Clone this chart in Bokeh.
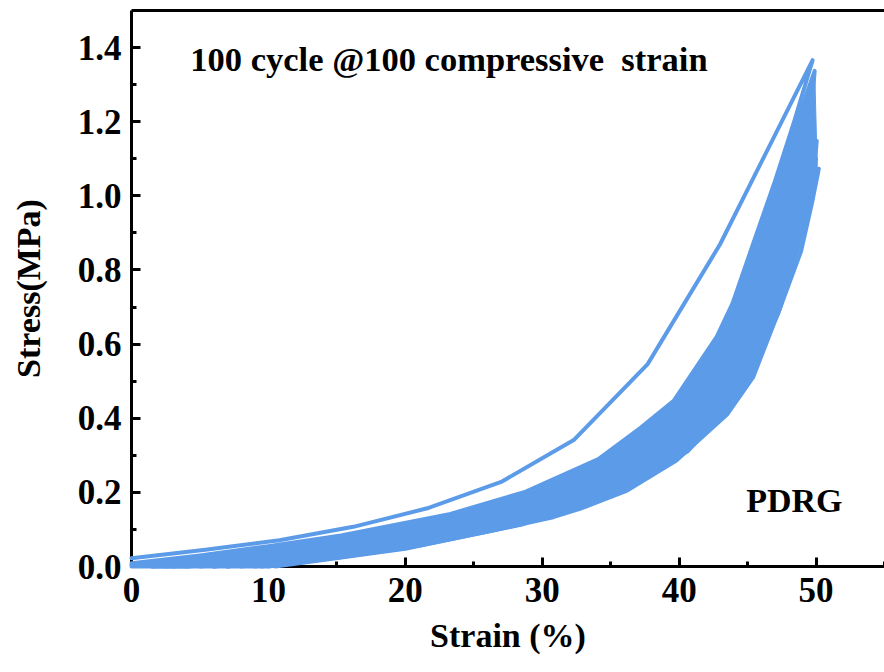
from bokeh.plotting import figure
from bokeh.models import (Range1d, SingleIntervalTicker, PrintfTickFormatter,
                          LinearAxis, FixedTicker)
from bokeh.core.properties import value
from bokeh.embed import file_html
from bokeh.resources import INLINE

# ---------------- data (strain %, stress MPa) ----------------
# cycle 1
c1_load_x = [0.0, 5.4, 10.8, 16.2, 21.6, 27.0, 32.3, 37.7, 43.0, 49.75]
c1_load_y = [0.022, 0.045, 0.071, 0.107, 0.157, 0.228, 0.341, 0.546, 0.870, 1.366]
c1_unload_x = [49.75, 48.4, 47.0, 45.4, 43.9, 42.75, 39.6, 37.2, 34.1, 28.8, 23.3, 15.3, 10.0, 5.0, 0.0]
c1_unload_y = [1.366, 1.20, 1.04, 0.87, 0.71, 0.62, 0.447, 0.375, 0.29, 0.202, 0.142, 0.084, 0.055, 0.030, 0.009]

# cycle 2
c2_load_x = [0.0, 5.0, 10.0, 15.3, 23.3, 28.8, 34.1, 37.2, 39.6, 42.75, 43.9, 45.4, 47.0, 48.4, 49.9]
c2_load_y = [0.004, 0.025, 0.049, 0.079, 0.137, 0.196, 0.283, 0.366, 0.438, 0.605, 0.695, 0.855, 1.03, 1.18, 1.337]
c2_unload_x = [49.9, 49.5, 48.8, 47.5, 45.8, 43.8, 41.0, 37.5, 33.0, 27.0, 21.0, 15.0, 9.0, 4.0, 1.5]
c2_unload_y = [1.337, 1.16, 0.99, 0.81, 0.64, 0.50, 0.37, 0.265, 0.18, 0.115, 0.068, 0.035, 0.012, 0.0, 0.0]

# intermediate cycles (loading then unloading)
c3_x = [1.5, 10, 20, 28, 34, 39, 43, 46, 48.4, 49.7, 49.3, 48.3, 46.5, 43.5, 39, 33, 25, 16, 6]
c3_y = [0.0, 0.04, 0.10, 0.175, 0.26, 0.38, 0.55, 0.76, 1.01, 1.243, 1.08, 0.90, 0.70, 0.49, 0.33, 0.21, 0.115, 0.045, 0.0]
c5_x = [2.5, 11, 21, 29, 35, 40, 44, 46.8, 48.6, 49.6, 49.2, 48.0, 46.0, 43.0, 38.5, 32, 24, 15, 7]
c5_y = [0.0, 0.038, 0.095, 0.17, 0.255, 0.38, 0.56, 0.79, 1.0, 1.198, 1.04, 0.86, 0.66, 0.47, 0.31, 0.19, 0.10, 0.038, 0.0]
c10_x = [3, 12, 22, 30, 36, 40.5, 44.5, 47, 48.8, 49.75, 49.4, 48.4, 46.6, 43.8, 39.5, 33, 25, 16, 8]
c10_y = [0.0, 0.036, 0.092, 0.168, 0.255, 0.37, 0.55, 0.76, 0.96, 1.17, 1.03, 0.87, 0.69, 0.49, 0.33, 0.2, 0.105, 0.04, 0.0]
c20_x = [4, 13, 23, 31, 37, 41.5, 45, 47.5, 49.2, 50.05, 49.7, 48.7, 46.9, 44.2, 40, 34, 26, 17, 9]
c20_y = [0.0, 0.034, 0.09, 0.165, 0.255, 0.40, 0.57, 0.78, 0.96, 1.148, 1.0, 0.86, 0.68, 0.49, 0.32, 0.2, 0.105, 0.04, 0.0]
c40_x = [5, 14, 24, 32, 37.5, 42, 45.5, 47.8, 49.1, 49.85, 49.5, 48.5, 46.8, 44, 40, 34.5, 27, 18, 9.5]
c40_y = [0.0, 0.032, 0.088, 0.163, 0.26, 0.42, 0.59, 0.79, 0.96, 1.12, 0.99, 0.85, 0.67, 0.47, 0.31, 0.2, 0.11, 0.042, 0.0]
c60_x = [6, 15, 25, 32.5, 38, 42.5, 46, 48.2, 49.4, 50.0, 49.6, 48.6, 46.9, 44.3, 40.3, 35, 28, 19, 10]
c60_y = [0.0, 0.03, 0.095, 0.17, 0.27, 0.44, 0.63, 0.84, 0.99, 1.10, 1.0, 0.86, 0.68, 0.47, 0.31, 0.205, 0.115, 0.045, 0.0]
c80_x = [7, 16, 26, 33, 38.5, 43, 46.5, 48.6, 49.6, 50.2, 49.7, 48.9, 47.2, 44.6, 40.6, 35.5, 28.5, 20, 10.5]
c80_y = [0.0, 0.04, 0.105, 0.175, 0.28, 0.47, 0.67, 0.89, 1.0, 1.073, 0.98, 0.85, 0.68, 0.47, 0.31, 0.205, 0.113, 0.048, 0.0]

# cycle 100 (last)
c100_load_x = [8, 17, 27, 34, 39, 43.5, 46.5, 48.6, 49.6, 50.1]
c100_load_y = [0.0, 0.04, 0.105, 0.19, 0.30, 0.47, 0.67, 0.88, 0.99, 1.06]
c100_unload_x = [50.1, 49.1, 47.4, 45.4, 43.5, 39.8, 36.2, 32.8, 30.8, 26.4, 21.1, 15.3, 9.9, 0.0]
c100_unload_y = [1.06, 0.915, 0.70, 0.51, 0.41, 0.286, 0.205, 0.156, 0.133, 0.097, 0.057, 0.025, 0.0, 0.0]

x_ticks_fmt = "%d"
y_ticks_fmt = "%.1f"
title_text = "100 cycle @100 compressive \u00a0strain"
sample_text = "PDRG"

# ---------------- figure ----------------
BLUE = "#5C9BE8"
FONT = "Liberation Serif"

p = figure(width=884, height=672, x_range=Range1d(0, 55), y_range=Range1d(0, 1.5),
           output_backend="svg", toolbar_location=None,
           min_border_left=131, min_border_right=0, min_border_top=10, min_border_bottom=106)
p.xgrid.visible = False
p.ygrid.visible = False
p.outline_line_color = None
p.background_fill_color = "white"
p.border_fill_color = "white"

# dense band of the later cycles
band_x = c2_load_x + c100_unload_x
band_y = c2_load_y + c100_unload_y
p.patch(band_x, band_y, fill_color=BLUE, line_color=BLUE, line_width=1, level="overlay")

xs = [c1_load_x + c1_unload_x[1:], c2_load_x + c2_unload_x[1:], c3_x, c5_x, c10_x, c20_x,
      c40_x, c60_x, c80_x, c100_load_x + c100_unload_x[1:]]
ys = [c1_load_y + c1_unload_y[1:], c2_load_y + c2_unload_y[1:], c3_y, c5_y, c10_y, c20_y,
      c40_y, c60_y, c80_y, c100_load_y + c100_unload_y[1:]]
p.multi_line(xs, ys, line_color=BLUE, line_width=4, line_join="round", line_cap="round",
             level="overlay")

# texts
p.text(x=[4.3], y=[1.37], text=[title_text], text_font=value(FONT), text_font_style="bold",
       text_font_size="34.5px", text_color="black", text_baseline="middle", text_align="left")
p.text(x=[44.9], y=[0.178], text=[sample_text], text_font=value(FONT), text_font_style="bold",
       text_font_size="34px", text_color="black", text_baseline="middle", text_align="left")

# axes
for ax in (p.xaxis[0], p.yaxis[0]):
    ax.axis_line_width = 3
    ax.axis_line_color = "black"
    ax.major_tick_line_width = 3
    ax.minor_tick_line_width = 3
    ax.major_tick_in = 9
    ax.major_tick_out = 0
    ax.minor_tick_in = 5
    ax.minor_tick_out = 0
    ax.major_label_text_font = FONT
    ax.major_label_text_font_style = "bold"
    ax.major_label_text_font_size = "35px"
    ax.major_label_text_color = "black"
    ax.axis_label_text_font = FONT
    ax.axis_label_text_font_style = "bold"
    ax.axis_label_text_font_size = "34px"
    ax.axis_label_text_color = "black"

p.xaxis[0].ticker = SingleIntervalTicker(interval=10, num_minor_ticks=2)
p.xaxis[0].formatter = PrintfTickFormatter(format=x_ticks_fmt)
p.xaxis[0].axis_label = "Strain (%)"
p.xaxis[0].major_label_standoff = 11
p.xaxis[0].axis_label_standoff = 12

p.yaxis[0].ticker = SingleIntervalTicker(interval=0.2, num_minor_ticks=2)
p.yaxis[0].formatter = PrintfTickFormatter(format=y_ticks_fmt)
p.yaxis[0].axis_label = "Stress(MPa)"
p.yaxis[0].major_label_standoff = 10
p.yaxis[0].axis_label_standoff = 28

top = LinearAxis(ticker=FixedTicker(ticks=[]), major_label_text_font_size="0px",
                 axis_line_width=3, axis_line_color="black",
                 major_tick_line_color=None, minor_tick_line_color=None,
                 major_label_standoff=0)
p.add_layout(top, "above")

open("out.html", "w").write(file_html(p, INLINE))
